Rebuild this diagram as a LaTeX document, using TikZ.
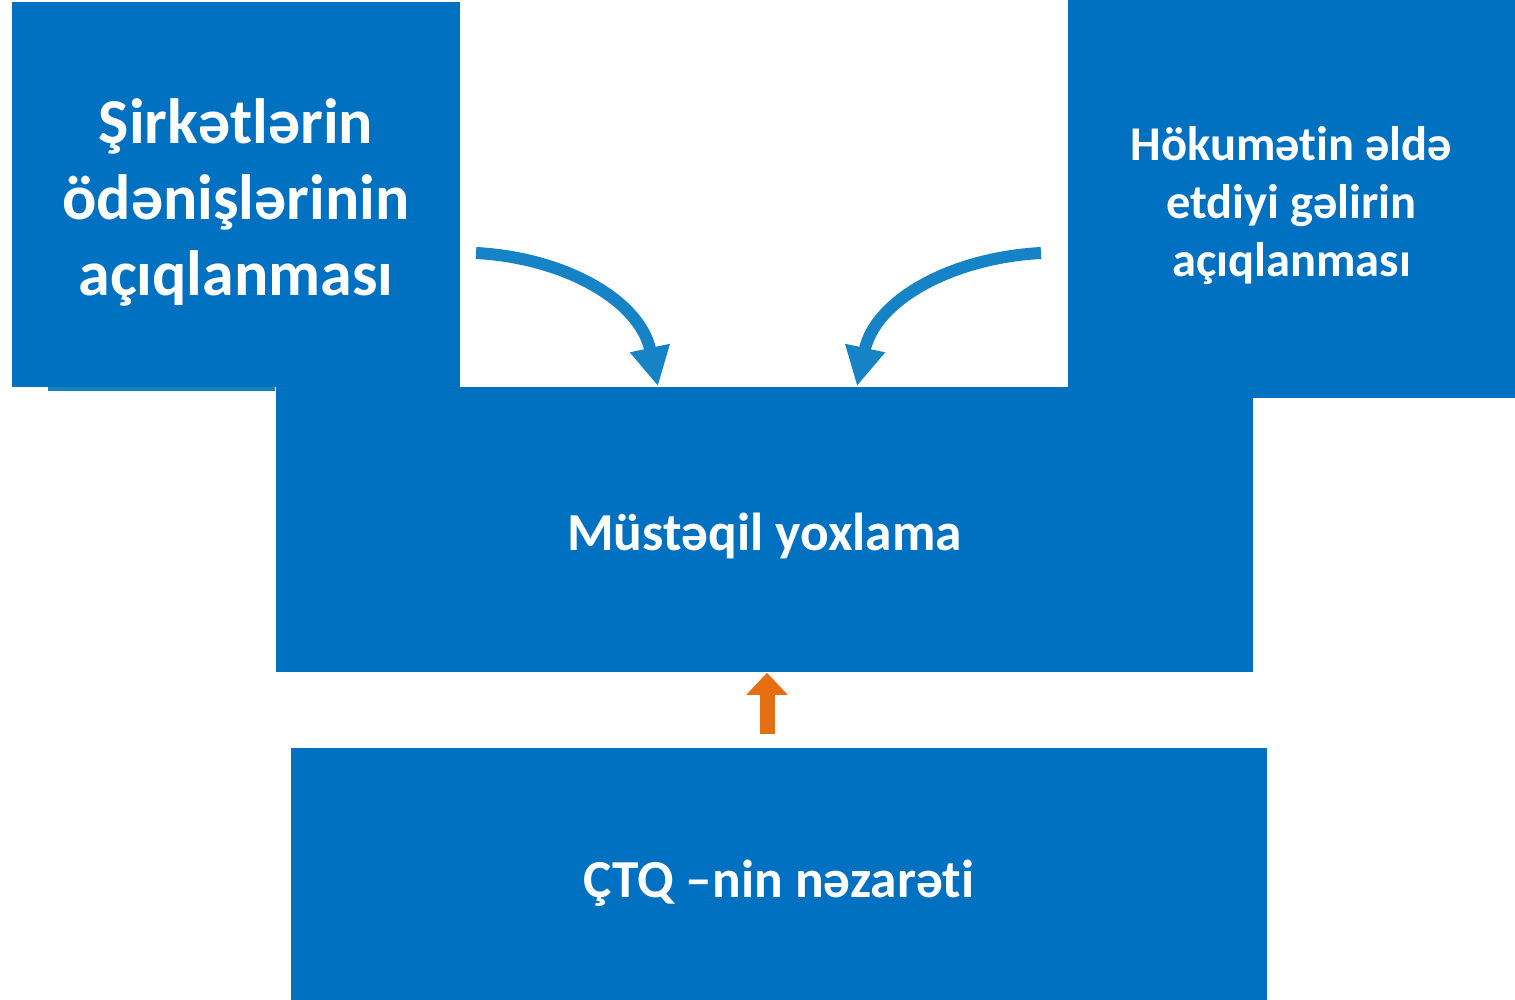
\documentclass[tikz,border=0pt]{standalone}
\usepackage{fontspec}
\setmainfont{Carlito}[Ligatures=NoCommon]
\usepackage{xcolor}
\usetikzlibrary{arrows.meta,calc}

\definecolor{boxblue}{HTML}{0070C0}
\definecolor{arrowblue}{HTML}{1583C6}
\definecolor{arroworange}{HTML}{E56E12}

\tikzset{
  bluebox/.style={fill=boxblue, draw=none, inner sep=0pt},
  boxtext/.style={text=white, align=center, inner sep=0pt},
  curvearrow/.style={draw=arrowblue, line width=0.12cm, -{Triangle[length=0.39cm, width=0.38cm]}},
  uparrow/.style={draw=arroworange, line width=0.15cm, -{Triangle[length=0.22cm, width=0.40cm]}}
}

\begin{document}
\begin{tikzpicture}[x=0.01cm, y=-0.01cm]
\useasboundingbox (0,0) rectangle (1515,1000);

% top boxes
\node[bluebox, minimum width=4.48cm, minimum height=3.85cm] (sirket) at (236,194.5) {};
\node[boxtext, font=\fontsize{18.2pt}{21.6pt}\selectfont\bfseries] (sirkettext)
  at ([yshift=-0.08cm]sirket.center) {Şirkətlərin\\ödənişlərinin\\açıqlanması};
\node[bluebox, minimum width=4.47cm, minimum height=3.98cm] (hokumet) at (1291.5,199) {};
\node[boxtext, font=\fontsize{13.8pt}{16.5pt}\selectfont\bfseries] (hokumettext)
  at ([yshift=-0.07cm]hokumet.center) {Hökumətin əldə\\etdiyi gəlirin\\açıqlanması};
\fill[arrowblue!85!teal] (48,387) rectangle (275,391);

% middle and bottom boxes
\node[bluebox, minimum width=9.77cm, minimum height=2.85cm] (yoxlama) at (764.5,529.5) {};
\node[boxtext, font=\fontsize{15.2pt}{18pt}\selectfont\bfseries] (yoxlamatext)
  at ([yshift=-0.06cm]yoxlama.center) {Müstəqil yoxlama};
\node[bluebox, minimum width=9.76cm, minimum height=2.52cm] (nezaret) at (779,874) {};
\node[boxtext, font=\fontsize{15.2pt}{18pt}\selectfont\bfseries] (nezarettext)
  at ([yshift=-0.09cm]nezaret.center) {ÇTQ –nin nəzarəti};

% arrows
\coordinate (a1) at (476,253);
\coordinate (a2) at (1041,253);
\coordinate (a3) at (767,734);
\draw[curvearrow] (a1) to[out=-3, in=102] ($(yoxlama.north)+(-106.5,0)$);
\draw[curvearrow] (a2) to[out=183, in=78] ($(yoxlama.north)+(92.5,0)$);
\draw[uparrow] (a3) -- (a3 |- yoxlama.south);
\end{tikzpicture}
\end{document}
